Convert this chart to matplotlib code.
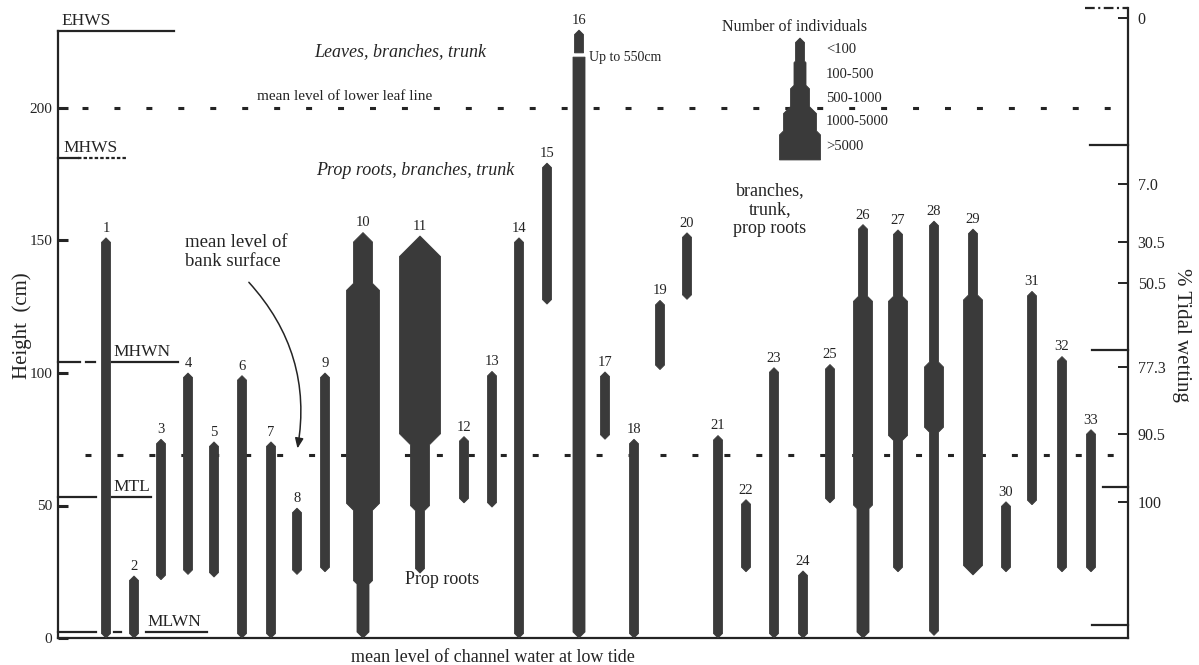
import matplotlib as mpl
import matplotlib.pyplot as plt
from matplotlib.patches import Polygon, FancyArrowPatch

mpl.rcParams['font.family'] = ['Liberation Serif', 'DejaVu Serif']
mpl.rcParams['font.size'] = 13
mpl.rcParams['lines.scale_dashes'] = False

# ---------------------------------------------------------------- data
SPECIES = list(range(1, 34))
LOWER_CM = [0, 0, 22, 24, 23, 0, 0, 24, 25, 0, 24.5, 51, 49.4, 0, 126, 0, 75,
            0, 101.3, 127.8, 0, 25, 0, 0, 51, 0, 25, 1, 23.8, 25, 50.3, 25, 25]
UPPER_CM = [151, 23.4, 75, 100, 74, 99, 74, 49, 100, 153, 151.7, 76, 100.6,
            151, 179.2, 229.4, 100.4, 75, 127.4, 152.9, 76.4, 52.2, 102, 25.3,
            103.2, 156, 154, 157.3, 154.3, 51.4, 130.8, 106.2, 78.6]
# abundance class of plain stems (1 = <100 ... 5 = >5000)
STEM_CLASS = [1, 1, 1, 1, 1, 1, 1, 1, 1, 1, 1, 1, 1, 1, 1, 2, 1,
              1, 1, 1, 1, 1, 1, 1, 1, 1, 1, 1, 1, 1, 1, 1, 1]
# stems whose abundance changes with height: breaks (cm) and classes from
# the ground up; class 0 is a break in the stem
BAND_BREAKS = {10: [21, 49.5, 132.5], 11: [49, 75], 16: [219.2, 220.8],
               26: [49.5, 128], 27: [75.5, 128], 28: [78.6, 103.2], 29: [128.5]}
BAND_CLASSES = {10: [2, 3, 4, 3], 11: [1, 3, 5], 16: [2, 0, 1],
                26: [2, 3, 1], 27: [1, 3, 1], 28: [1, 3, 1], 29: [3, 1]}

ABUNDANCE = ['<100', '100-500', '500-1000', '1000-5000', '>5000']

TIDE_NAMES = ['EHWS', 'MHWS', 'MHWN', 'MTL', 'MLWN']
TIDE_LEFT_CM = [229.1, 181.1, 104.2, 53.2, 2.3]
TIDE_RIGHT_CM = [237.7, 186.0, 108.7, 57.0, 4.9]

WETTING_PCT = ['0', '7.0', '30.5', '50.5', '77.3', '90.5', '100']
WETTING_AT_CM = [234.0, 171.3, 149.4, 134.0, 102.3, 77.0, 51.3]

LEAF_LINE_CM = 200
BANK_LEVEL_CM = 69
Y_TICKS = [0, 50, 100, 150, 200]

# ---------------------------------------------------------------- layout
STEM_X = [106, 134, 161, 188, 214, 242, 271, 297, 325, 363, 420, 464, 492,
          519, 547, 579, 605, 634, 660, 687, 718, 746, 774, 803, 830, 863,
          898, 934, 973, 1006, 1032, 1062, 1091]
CLASS_WIDTH = [9, 12, 19, 33, 41]      # stem widths on the page, px
PX_PER_CM = 2.65
X0, X1 = 58, 1128                      # x runs in page pixels

INK = '#242424'
STEM = '#3a3a3a'

LEFT_MARKS = {
    'EHWS': [((58, 174), '-')],
    'MHWS': [((58, 78), '-'), ((78, 128), (0, (2.5, 1.5)))],
    'MHWN': [((58, 80), '-'), ((86, 95), '-'), ((112, 178), '-')],
    'MTL':  [((58, 96), '-'), ((112, 151), '-')],
    'MLWN': [((58, 96), '-'), ((114, 121), '-'), ((146, 207), '-')],
}
LABEL_X = {'EHWS': 61, 'MHWS': 63, 'MHWN': 113, 'MTL': 113, 'MLWN': 147}
RIGHT_MARK_START = [1085, 1090, 1092, 1103, 1092]


def stem_outline(x, segs, pointed_base=True, pointed_top=True):
    """Outline of one stem: width steps with 45-degree shoulders, pointed ends."""
    k = 1.0 / PX_PER_CM
    half = lambda c: CLASS_WIDTH[c - 1] / 2.0
    pts = []
    lo, _, c = segs[0]
    h = half(c)
    if pointed_base:
        pts += [(x, lo), (x + h, lo + h * k)]
    else:
        pts += [(x + h, lo)]
    for (_, hi, c1), (_, _, c2) in zip(segs[:-1], segs[1:]):
        h1, h2 = half(c1), half(c2)
        d = abs(h2 - h1) * k / 2
        pts += [(x + h1, hi - d), (x + h2, hi + d)]
    _, hi, c = segs[-1]
    h = half(c)
    if pointed_top:
        pts += [(x + h, hi - h * k), (x, hi)]
    else:
        pts += [(x + h, hi)]
    mirror = [(2 * x - px, py) for px, py in reversed(pts)]
    return pts + mirror


def stem_pieces(i):
    sp = SPECIES[i]
    bounds = [LOWER_CM[i]] + BAND_BREAKS.get(sp, []) + [UPPER_CM[i]]
    classes = BAND_CLASSES.get(sp, [STEM_CLASS[i]])
    pieces, cur = [], []
    for lo, hi, c in zip(bounds[:-1], bounds[1:], classes):
        if c == 0:
            pieces.append(cur)
            cur = []
        else:
            cur.append((lo, hi, c))
    pieces.append(cur)
    return pieces


fig = plt.figure(figsize=(11.99, 6.65), dpi=100)
ax = fig.add_axes([X0 / 1199, 27 / 665, (X1 - X0) / 1199, 630 / 665])
ax.set_xlim(X0, X1)
ax.set_ylim(0, 630 / PX_PER_CM)

# stems
for i, sp in enumerate(SPECIES):
    x = STEM_X[i]
    pieces = stem_pieces(i)
    for j, segs in enumerate(pieces):
        poly = stem_outline(x, segs, pointed_base=(j == 0),
                            pointed_top=(j == len(pieces) - 1))
        ax.add_patch(Polygon(poly, closed=True, facecolor=STEM,
                             edgecolor=STEM, linewidth=0.6, zorder=3))
    ax.text(x, UPPER_CM[i] + 2.3, str(sp), ha='center', va='baseline',
            fontsize=10.5, color=INK, zorder=4)

# reference levels across the swamp
ax.plot([82, 1120], [LEAF_LINE_CM, LEAF_LINE_CM], color=INK, lw=2.2,
        dashes=(4.3, 18.7), solid_capstyle='butt', zorder=2)
ax.plot([85, 1120], [BANK_LEVEL_CM, BANK_LEVEL_CM], color=INK, lw=2.2,
        dashes=(4.3, 18.7), solid_capstyle='butt', zorder=2)

# tidal datums on the left
for name, level in zip(TIDE_NAMES, TIDE_LEFT_CM):
    for (xa, xb), ls in LEFT_MARKS[name]:
        ax.plot([xa, xb], [level, level], color=INK, lw=1.6, linestyle=ls,
                clip_on=False, zorder=2)
    ax.text(LABEL_X[name], level + 2.2, name, ha='left', va='baseline',
            fontsize=12.5, color=INK)

# and on the right-hand axis
for k, (xa, level) in enumerate(zip(RIGHT_MARK_START, TIDE_RIGHT_CM)):
    ls = (0, (7, 2.5, 1.5, 2.5)) if k == 0 else '-'
    ax.plot([xa, X1], [level, level], color=INK, lw=1.6, linestyle=ls,
            clip_on=False, zorder=2)

# abundance key
key_x = 800
key_bounds = [180.4, 190.6, 199.2, 207.9, 217.4, 226.4]
key_segs = [(key_bounds[j], key_bounds[j + 1], 5 - j) for j in range(5)]
ax.add_patch(Polygon(stem_outline(key_x, key_segs, pointed_base=False),
                     closed=True, facecolor=STEM, edgecolor=STEM, lw=0.6,
                     zorder=3))
for lo, hi, c in key_segs:
    ax.text(826, (lo + hi) / 2, ABUNDANCE[c - 1], ha='left', va='center',
            fontsize=10.5, color=INK)
ax.text(795, 230.6, 'Number of individuals', ha='center', va='center',
        fontsize=11.5, color=INK)

# annotations
ax.text(400, 221.1, 'Leaves, branches, trunk', ha='center', va='center',
        style='italic', fontsize=13, color=INK)
ax.text(345, 204.2, 'mean level of lower leaf line', ha='center',
        va='center', fontsize=11, color=INK)
ax.text(415, 176.6, 'Prop roots, branches, trunk', ha='center', va='center',
        style='italic', fontsize=13, color=INK)
ax.text(589, 218.9, 'Up to 550cm', ha='left', va='center', fontsize=10,
        color=INK)
ax.text(770, 172.0, 'branches,\ntrunk,\nprop roots', ha='center', va='top',
        fontsize=13, linespacing=1.15, color=INK)
ax.text(185, 145.7, 'mean level of\nbank surface', ha='left', va='center',
        fontsize=13.5, linespacing=1.1, color=INK)
ax.text(442, 21.9, 'Prop roots', ha='center', va='center', fontsize=13,
        color=INK)
ax.text(493, -7.5, 'mean level of channel water at low tide', ha='center',
        va='center', fontsize=13, color=INK, clip_on=False)
ax.add_patch(FancyArrowPatch((247, 135.0), (297, 70.5),
                             connectionstyle='arc3,rad=-0.25',
                             arrowstyle='-|>,head_length=6,head_width=2.5',
                             color=INK, lw=1.1, zorder=4))

# axes frame
for side in ('top', 'right'):
    ax.spines[side].set_visible(False)
ax.spines['left'].set_bounds(0, TIDE_LEFT_CM[0])
for side in ('left', 'bottom'):
    ax.spines[side].set_linewidth(1.6)
    ax.spines[side].set_color(INK)
ax.set_xticks([])
ax.set_yticks(Y_TICKS)
ax.tick_params(axis='y', direction='in', length=7, width=2.2, pad=4,
               labelsize=11, colors=INK)

ax2 = ax.twinx()
ax2.set_ylim(ax.get_ylim())
for side in ('top', 'left', 'bottom'):
    ax2.spines[side].set_visible(False)
ax2.spines['right'].set_bounds(0, TIDE_RIGHT_CM[0])
ax2.spines['right'].set_linewidth(1.6)
ax2.spines['right'].set_color(INK)
ax2.set_yticks(WETTING_AT_CM)
ax2.set_yticklabels(WETTING_PCT)
ax2.tick_params(axis='y', direction='in', length=7, width=1.4, pad=7,
                labelsize=11.5, colors=INK)

fig.text(22 / 1199, 1 - 326 / 665, 'Height  (cm)', rotation=90, ha='center',
         va='center', fontsize=15, color=INK)
fig.text(1181 / 1199, 1 - 335 / 665, '% Tidal wetting', rotation=-90,
         ha='center', va='center', fontsize=15, color=INK)

fig.savefig('out.png', dpi=100, facecolor='white')
